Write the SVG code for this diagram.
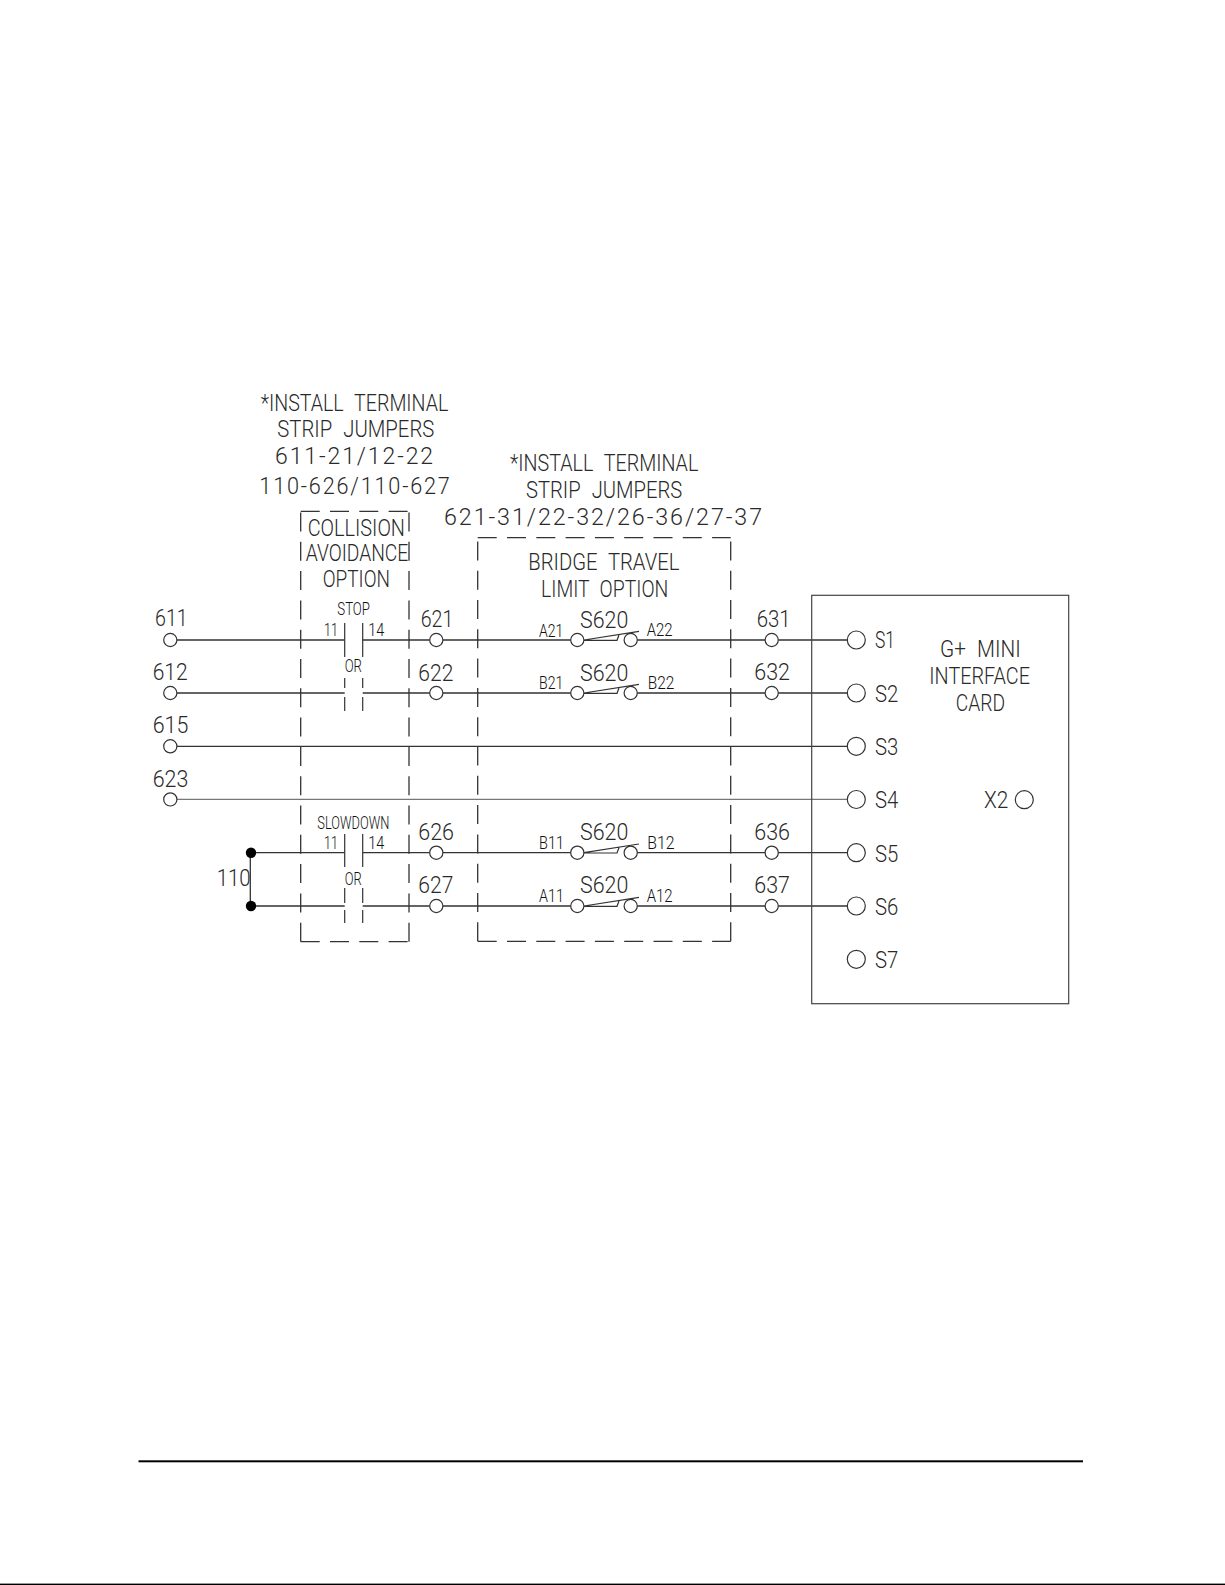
<svg xmlns="http://www.w3.org/2000/svg" width="1225" height="1585" viewBox="0 0 1225 1585">
<style>
text{font-family:"Roboto","Liberation Sans",sans-serif;font-weight:300;fill:#2a2a2a;font-size:24px}
.s{font-size:17.500px;fill:#111}
.m{font-size:23px}
.ws{word-spacing:7px}
.ls{letter-spacing:2px}
.t{fill:#fff;stroke:#333;stroke-width:1.2}
.w{fill:none;stroke:#333;stroke-width:1.3}
.h{stroke-width:1.7}
.f{stroke:#777;stroke-width:1.1}
.d{fill:none;stroke:#333;stroke-width:1.3;stroke-dasharray:19 10.3}
.b{fill:none;stroke:#333;stroke-width:1.2}
</style>
<rect width="1225" height="1585" fill="#fff"/>
<g id="connectors">
<path class="w" d="M176.800 640H344.700M362.700 640H429.800M442.800 640H570.800M637.200 640H765.200M778.200 640H847.300"/>
<path class="w h" d="M176.800 693H344.700M362.700 693H429.800M442.800 693H570.800M637.200 693H765.200M778.200 693H847.300"/>
<path class="w" d="M176.800 746.300H847.300"/>
<path class="w f" d="M176.800 799.400H847.300"/>
<path class="w" d="M251 852.700H344.700M362.700 852.700H429.800M442.800 852.700H570.800M637.200 852.700H765.200M778.200 852.700H847.300"/>
<path class="w" d="M251 906H344.700M362.700 906H429.800M442.800 906H570.800M637.200 906H765.200M778.200 906H847.300"/>
<path class="w" d="M250.300 852.700V906"/>
</g>
<g id="collision-box">
<path class="d" d="M300.700 941.700V511.300M409 941.700V511.300M300.700 941.700H409M300.700 511.300H409"/>
<text x="307.700" y="536.300" textLength="97.300" lengthAdjust="spacingAndGlyphs" class="m">COLLISION</text>
<text x="305.700" y="561.300" textLength="102.600" lengthAdjust="spacingAndGlyphs" class="m">AVOIDANCE</text>
<text x="322.700" y="587.300" textLength="67.300" lengthAdjust="spacingAndGlyphs" class="m">OPTION</text>
</g>
<g id="bridge-box">
<path class="d" d="M477.700 941.300V537.700M730.700 941.300V537.700M477.700 941.300H730.700M477.700 537.700H730.700"/>
<text x="528.300" y="570" textLength="151" lengthAdjust="spacingAndGlyphs" class="ws">BRIDGE TRAVEL</text>
<text x="541" y="596.700" textLength="127.300" lengthAdjust="spacingAndGlyphs" class="ws">LIMIT OPTION</text>
</g>
<g id="note-collision">
<text x="260.700" y="411" textLength="187.600" lengthAdjust="spacingAndGlyphs" class="m ws">*INSTALL TERMINAL</text>
<text x="277.300" y="437.300" textLength="157" lengthAdjust="spacingAndGlyphs" class="m ws">STRIP JUMPERS</text>
<text x="275" y="464" textLength="160" lengthAdjust="spacingAndGlyphs" class="ls">611-21/12-22</text>
<text x="259.300" y="494" textLength="192.400" lengthAdjust="spacingAndGlyphs" class="ls">110-626/110-627</text>
</g>
<g id="note-bridge">
<text x="510" y="471" textLength="188.300" lengthAdjust="spacingAndGlyphs" class="m ws">*INSTALL TERMINAL</text>
<text x="526" y="497.700" textLength="156.300" lengthAdjust="spacingAndGlyphs" class="m ws">STRIP JUMPERS</text>
<text x="444" y="525" textLength="320" lengthAdjust="spacingAndGlyphs" class="ls">621-31/22-32/26-36/27-37</text>
</g>
<g id="contact-stop">
<path class="b" d="M344.700 623V657M362.700 623V657"/>
<path class="b" d="M344.700 678V688M344.700 697V711M362.700 678V688M362.700 697V711"/>
<text x="337.300" y="615.300" textLength="32.700" lengthAdjust="spacingAndGlyphs" class="s">STOP</text>
<text x="324" y="636" textLength="14" lengthAdjust="spacingAndGlyphs" class="s">11</text>
<text x="368.300" y="636" textLength="16" lengthAdjust="spacingAndGlyphs" class="s">14</text>
<text x="344.700" y="672.300" textLength="17.300" lengthAdjust="spacingAndGlyphs" class="s">OR</text>
</g>
<g id="contact-slowdown">
<path class="b" d="M344.700 834V867M362.700 834V867"/>
<path class="b" d="M344.700 888V903M344.700 910V923M362.700 888V903M362.700 910V923"/>
<text x="317.300" y="829.300" textLength="72" lengthAdjust="spacingAndGlyphs" class="s">SLOWDOWN</text>
<text x="324" y="848.700" textLength="14" lengthAdjust="spacingAndGlyphs" class="s">11</text>
<text x="368.300" y="848.700" textLength="16" lengthAdjust="spacingAndGlyphs" class="s">14</text>
<text x="344.700" y="885" textLength="17" lengthAdjust="spacingAndGlyphs" class="s">OR</text>
</g>
<g id="t611"><circle class="t" cx="170.300" cy="640" r="6.600"/><text x="155" y="626" textLength="32.700" lengthAdjust="spacingAndGlyphs">611</text></g>
<g id="t612"><circle class="t" cx="170.300" cy="693" r="6.600"/><text x="152.700" y="680" textLength="35" lengthAdjust="spacingAndGlyphs">612</text></g>
<g id="t615"><circle class="t" cx="170.300" cy="746.300" r="6.600"/><text x="152.700" y="732.700" textLength="35.600" lengthAdjust="spacingAndGlyphs">615</text></g>
<g id="t623"><circle class="t" cx="170.300" cy="799.400" r="6.600"/><text x="152.700" y="786.700" textLength="35.600" lengthAdjust="spacingAndGlyphs">623</text></g>
<g id="t110"><circle cx="251" cy="852.700" r="5.200" fill="#000"/><circle cx="251" cy="906" r="5.200" fill="#000"/><text x="216.700" y="886" textLength="34" lengthAdjust="spacingAndGlyphs">110</text></g>
<g id="t621"><circle class="t" cx="436.300" cy="640" r="6.600"/><text x="420.700" y="626.700" textLength="32.600" lengthAdjust="spacingAndGlyphs">621</text></g>
<g id="t622"><circle class="t" cx="436.300" cy="693" r="6.600"/><text x="418.300" y="680.700" textLength="35" lengthAdjust="spacingAndGlyphs">622</text></g>
<g id="t626"><circle class="t" cx="436.300" cy="852.700" r="6.600"/><text x="418.300" y="840" textLength="35.700" lengthAdjust="spacingAndGlyphs">626</text></g>
<g id="t627"><circle class="t" cx="436.300" cy="906" r="6.600"/><text x="418.300" y="893.300" textLength="35" lengthAdjust="spacingAndGlyphs">627</text></g>
<g id="switch-a2">
<circle class="t" cx="577.300" cy="640" r="6.600"/><circle class="t" cx="630.700" cy="640" r="6.600"/>
<path class="b" d="M584 640.300H617L619 635M584 640L639 631.300"/>
<text x="539" y="636.700" textLength="24.300" lengthAdjust="spacingAndGlyphs" class="s">A21</text>
<text x="580" y="627.700" textLength="48.300" lengthAdjust="spacingAndGlyphs">S620</text>
<text x="646.700" y="636" textLength="26" lengthAdjust="spacingAndGlyphs" class="s">A22</text>
</g>
<g id="switch-b2">
<circle class="t" cx="577.300" cy="693" r="6.600"/><circle class="t" cx="630.700" cy="693" r="6.600"/>
<path class="b" d="M584 693.300H617L619 688M584 693L639 684.300"/>
<text x="539" y="689.300" textLength="24.300" lengthAdjust="spacingAndGlyphs" class="s">B21</text>
<text x="580" y="680.700" textLength="48.300" lengthAdjust="spacingAndGlyphs">S620</text>
<text x="647.700" y="689.300" textLength="26.600" lengthAdjust="spacingAndGlyphs" class="s">B22</text>
</g>
<g id="switch-b1">
<circle class="t" cx="577.300" cy="852.700" r="6.600"/><circle class="t" cx="630.700" cy="852.700" r="6.600"/>
<path class="b" d="M584 853H617L619 847.700M584 852.700L639 844"/>
<text x="539" y="849" textLength="25" lengthAdjust="spacingAndGlyphs" class="s">B11</text>
<text x="580" y="840" textLength="48.300" lengthAdjust="spacingAndGlyphs">S620</text>
<text x="647.300" y="849" textLength="27.300" lengthAdjust="spacingAndGlyphs" class="s">B12</text>
</g>
<g id="switch-a1">
<circle class="t" cx="577.300" cy="906" r="6.600"/><circle class="t" cx="630.700" cy="906" r="6.600"/>
<path class="b" d="M584 906.300H617L619 901M584 906L639 897.300"/>
<text x="539" y="902.300" textLength="25" lengthAdjust="spacingAndGlyphs" class="s">A11</text>
<text x="580" y="893.300" textLength="48.300" lengthAdjust="spacingAndGlyphs">S620</text>
<text x="646.700" y="902.300" textLength="26" lengthAdjust="spacingAndGlyphs" class="s">A12</text>
</g>
<g id="t631"><circle class="t" cx="771.700" cy="640" r="6.600"/><text x="756.700" y="626.700" textLength="34" lengthAdjust="spacingAndGlyphs">631</text></g>
<g id="t632"><circle class="t" cx="771.700" cy="693" r="6.600"/><text x="754.300" y="680" textLength="35.700" lengthAdjust="spacingAndGlyphs">632</text></g>
<g id="t636"><circle class="t" cx="771.700" cy="852.700" r="6.600"/><text x="754.300" y="840" textLength="35.700" lengthAdjust="spacingAndGlyphs">636</text></g>
<g id="t637"><circle class="t" cx="771.700" cy="906" r="6.600"/><text x="754.300" y="893.300" textLength="35.700" lengthAdjust="spacingAndGlyphs">637</text></g>
<g id="card">
<rect x="811.700" y="595.300" width="257" height="408.400" fill="none" stroke="#444" stroke-width="1.2"/>
<text x="940" y="657.300" textLength="80.700" lengthAdjust="spacingAndGlyphs" class="ws">G+ MINI</text>
<text x="929.300" y="684.300" textLength="100.700" lengthAdjust="spacingAndGlyphs">INTERFACE</text>
<text x="955.700" y="711" textLength="49.300" lengthAdjust="spacingAndGlyphs">CARD</text>
</g>
<g id="s1"><circle class="t" cx="856.300" cy="640" r="9"/><text x="875" y="648.300" textLength="20" lengthAdjust="spacingAndGlyphs">S1</text></g>
<g id="s2"><circle class="t" cx="856.300" cy="693" r="9"/><text x="875" y="701.700" textLength="23.300" lengthAdjust="spacingAndGlyphs">S2</text></g>
<g id="s3"><circle class="t" cx="856.300" cy="746.300" r="9"/><text x="875" y="755.300" textLength="23.300" lengthAdjust="spacingAndGlyphs">S3</text></g>
<g id="s4"><circle class="t" cx="856.300" cy="799.500" r="9"/><text x="875" y="808.300" textLength="23.300" lengthAdjust="spacingAndGlyphs">S4</text></g>
<g id="s5"><circle class="t" cx="856.300" cy="852.700" r="9"/><text x="875" y="862" textLength="23.300" lengthAdjust="spacingAndGlyphs">S5</text></g>
<g id="s6"><circle class="t" cx="856.300" cy="906" r="9"/><text x="875" y="915" textLength="23.300" lengthAdjust="spacingAndGlyphs">S6</text></g>
<g id="s7"><circle class="t" cx="856.300" cy="959.300" r="9"/><text x="875" y="968.300" textLength="23.300" lengthAdjust="spacingAndGlyphs">S7</text></g>
<g id="x2"><circle class="t" cx="1024.300" cy="799.700" r="9"/><text x="984" y="808.300" textLength="24.300" lengthAdjust="spacingAndGlyphs">X2</text></g>
<g id="page-rules">
<rect x="138.500" y="1460.300" width="944.500" height="2" fill="#000"/>
<rect x="0" y="1583.600" width="1225" height="1.400" fill="#000"/>
</g>
</svg>
